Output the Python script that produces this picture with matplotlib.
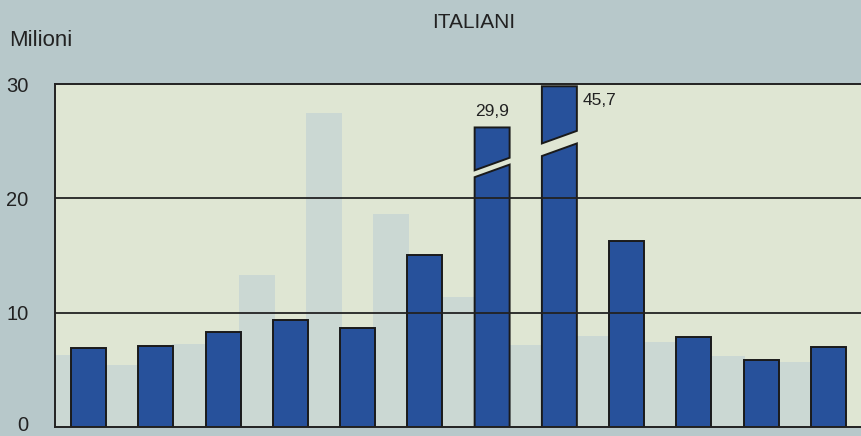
import numpy as np
import matplotlib.pyplot as plt
import matplotlib.transforms as mtransforms
from matplotlib.patches import Polygon

plt.rcParams['font.family'] = ['Liberation Sans', 'DejaVu Sans']

# milioni di italiani, una barra per periodo
valori = [6.9, 7.1, 8.3, 9.4, 8.7, 15.0, 29.9, 45.7, 16.3, 7.9, 5.9, 7.0]
etichette = {6: '29,9', 7: '45,7'}
# faint bars showing through from the back of the page
ombra = [6.3, 5.4, 7.3, 13.3, 27.5, 18.6, 11.4, 7.2, 8.0, 7.4, 6.2, 5.7]

# broken bars: drawn top, middle of the cut, cut height
spezzate = {6: (26.2, 22.7, 0.6), 7: (29.8, 24.8, 1.1)}

blu = '#27519b'
sfondo = '#b7c8ca'
area = '#dfe6d3'
w = 0.52
slope = 1.1

fig = plt.figure(figsize=(8.62, 4.36), dpi=100, facecolor=sfondo)
ax = fig.add_axes([55/862, 1 - 427/436, 807/862, 343/436])
ax.set_facecolor(area)

x = np.arange(len(valori))

# ghost bars between the real ones
ax.bar(x - 0.5, ombra, width=0.53, color='#cbd8d3', zorder=1)

# normal bars
normali = [i for i in x if i not in spezzate]
ax.bar([x[i] for i in normali], [valori[i] for i in normali], width=w,
       color=blu, edgecolor='#1a1a1a', linewidth=1.4, zorder=2)

# broken bars drawn in two pieces with a slanted cut
for i, (top, mid, gap) in spezzate.items():
    x0 = x[i] - w/2
    x1 = x[i] + w/2
    basso = [(x0, 0), (x1, 0), (x1, mid + slope/2 - gap/2), (x0, mid - slope/2 - gap/2)]
    alto = [(x0, mid - slope/2 + gap/2), (x1, mid + slope/2 + gap/2), (x1, top), (x0, top)]
    for pts in (basso, alto):
        ax.add_patch(Polygon(pts, closed=True, facecolor=blu, edgecolor='#1a1a1a',
                             linewidth=1.4, zorder=2))

# value labels for broken bars
ax.text(x[6], spezzate[6][0] + 1.4, etichette[6], ha='center', va='center', fontsize=12.5, color='#222222')
ax.text(x[7] + 0.6, 28.6, etichette[7], ha='center', va='center', fontsize=12.5, color='#222222')

# grid lines
for g in [10, 20]:
    ax.axhline(g, color='#222222', linewidth=1.3, zorder=3)

ax.set_xlim(-0.5, 11.5)
ax.set_ylim(0, 30)
ax.set_xticks([])
ax.set_yticks([0, 10, 20, 30])
ax.tick_params(axis='y', length=0, pad=19, labelsize=14.5, labelcolor='#222222')
ax.spines['right'].set_visible(False)
for s in ['left', 'top', 'bottom']:
    ax.spines[s].set_color('#222222')
    ax.spines[s].set_linewidth(1.4)

# nudge the "0" label up so it stays inside the figure
fig.canvas.draw()
lab0 = ax.get_yticklabels()[0]
lab0.set_transform(lab0.get_transform() + mtransforms.ScaledTranslation(0, 4/100, fig.dpi_scale_trans))

fig.text(9/862, 1 - 41/436, 'Milioni', ha='left', va='center', fontsize=16, color='#222222')
fig.text(474/862, 1 - 22/436, 'ITALIANI', ha='center', va='center', fontsize=15, color='#222222')

plt.savefig('out.png', dpi=100, facecolor=sfondo)
